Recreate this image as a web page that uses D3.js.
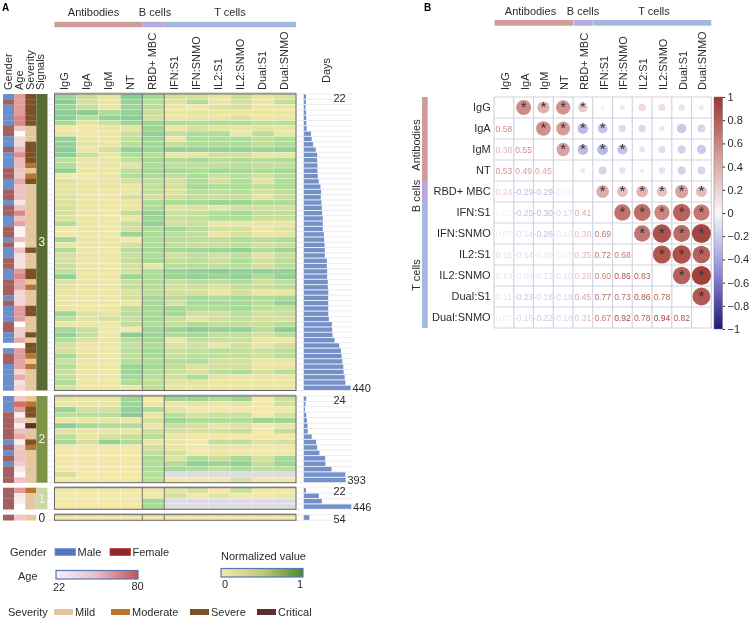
<!DOCTYPE html>
<html><head><meta charset="utf-8">
<script src="https://cdn.jsdelivr.net/npm/d3@7/dist/d3.min.js"></script>
<style>html,body{margin:0;padding:0;background:#fff}svg{display:block;filter:blur(0.35px)}text{font-family:"Liberation Sans",Arial,sans-serif;fill:#2b2b2b}</style>
</head><body><svg id="c" width="749" height="620"></svg>
<script>
const markers=["IgG","IgA","IgM","NT","RBD+ MBC","IFN:S1","IFN:SNMO","IL2:S1","IL2:SNMO","Dual:S1","Dual:SNMO"];
const groupLabels=[3,2,1,0];
const groupSizes=[56,16,4,1];
const N=null;
const igG=[.5,.6,.5,.6,.6,.45,0,.05,.55,.55,.6,.6,.3,.4,.55,0,.15,.1,.1,.15,
 .15,.2,.2,.15,.4,0,0,.45,.05,.4,.2,.2,.25,.3,.55,.15,.1,.05,.05,.05,.05,.5,.3,.05,.45,.55,.4,.2,.2,.45,.25,.35,.25,.3,.4,.2,
 .1,.05,.5,.35,.05,.6,.1,.3,.45,0,0,0,0,0,.2,0, 0,0,0,0, 0];
const igA=[.25,.2,.25,.6,.35,.1,0,0,.05,.1,.05,.25,.05,.05,.05,0,.05,.05,.05,.05,
 .04,.04,.04,.04,.04,.04,.04,.04,.04,.04,.04,.04,.04,.04,.04,.04,.04,.04,.04,.04,.04,.15,.1,.04,.25,.3,.15,.04,.04,.1,.04,.04,.04,.04,.04,.04,
 .05,.05,.2,.35,.05,.45,.05,.05,.2,0,0,0,0,0,0,0, 0,0,0,0, 0];
const igM=[.1,.05,.05,.4,.55,.25,.05,.05,.05,.05,.2,.05,.05,.05,.05,.05,.05,.05,.03,.03,
 .03,.03,.03,.03,.03,.03,.03,.03,.03,.03,.03,.03,.03,.03,.03,.03,.03,.03,.03,.03,.03,.1,.2,.03,.03,.03,.03,.03,.03,.03,.03,.03,.03,.03,.03,.03,
 .05,.05,.2,.35,.05,.4,.05,.2,.55,0,0,0,0,0,0,0, 0,0,0,0, 0];
const nt=[.6,.55,.5,.55,.6,.5,.1,.25,.3,.35,.55,.4,.3,.1,.3,.4,.2,.05,.05,.2,
 .05,.05,.3,.05,.25,.2,.5,0,.2,.35,.25,.3,.2,.2,.5,.25,.3,.15,.2,.05,.3,.35,.25,.3,0,.6,.35,.3,.35,.3,.35,.5,.5,.45,.4,.05,
 .5,.5,.55,.6,.05,.4,.05,.25,.4,0,0,0,0,0,0,0, 0,0,0,0, 0];
const rbd=[.45,.35,.35,.25,.2,.5,.5,.55,.5,.45,.5,.35,.45,.4,.45,.4,.3,.3,.3,.2,
 .4,.4,.55,.5,.55,.4,.4,.4,.4,.45,.4,.45,.05,.4,.4,.4,.35,.3,.45,.45,.45,.45,.45,.4,.5,.5,.45,.4,.45,.45,.4,.45,.4,.35,.3,.3,
 0,.05,.4,.05,.2,.05,.25,.35,.05,.2,.3,.4,.4,.4,.35,.35, 0,0,.45,.45, 0];
const ifnS1=[.2,.15,.05,.05,.05,.4,.05,.3,.05,.3,.55,.05,.4,.3,.45,.3,.2,.2,.15,.2,
 .4,.1,.25,.25,.2,.45,.35,.35,.3,.45,.2,.3,.35,.5,.5,.25,.2,.2,.35,.2,.45,.45,.25,.3,.5,.4,.05,.15,.25,.25,.35,.3,.25,.2,.1,.05,
 .5,.05,.1,.35,.5,.25,.2,.05,.05,.05,.2,.15,.4,.45,N,0, .1,.2,N,N, 0];
const ifnSNMO=[.2,.4,0,.1,.1,.4,.2,.4,.4,.4,.55,.05,.45,.3,.4,.4,.4,.45,.35,.3,
 .45,.15,.3,.3,.25,.35,.3,.35,.25,.5,.3,.35,.35,.55,.55,.35,.25,.2,.45,.45,.4,.2,.1,.4,.6,.45,.3,.2,.3,.35,.4,.15,.15,.4,.1,.05,
 .5,.1,0,.2,.4,.2,.2,0,0,0,0,.4,.55,.4,N,0, .2,0,N,N, 0];
const il2S1=[.05,.05,.15,.05,.05,.4,.1,.4,.4,.4,.55,.2,.35,.3,.45,.25,.2,.4,.3,.25,
 .5,.05,.4,.4,.05,.2,.05,.3,.25,.5,.2,.25,.3,.6,.5,.3,.15,.05,.4,.45,.4,.2,.2,.3,.55,.3,.25,.05,.35,.3,.2,.2,.35,.1,.05,.05,
 .4,.05,0,.25,.4,.05,.2,0,.3,.05,.05,.25,.5,.3,N,0, 0,.1,N,N, 0];
const il2SNMO=[.25,.2,.2,.05,.15,.4,.05,.05,.4,.4,.55,.2,.4,.35,.45,.35,.4,.4,.35,.3,
 .5,.2,.45,.4,.05,.2,.2,.4,.3,.55,.3,.4,.35,.55,.55,.4,.3,.2,.45,.45,.45,.35,.3,.3,.55,.3,.25,.2,.3,.3,.2,.2,.4,.05,.05,.05,
 .5,.1,0,.25,.4,.15,.3,0,.3,.05,0,.45,.55,.4,N,.2, .25,0,N,N, 0];
const dualS1=[.05,.05,.05,.05,.05,.3,.1,.35,.3,.3,.5,.05,.35,.3,.4,.2,.1,.3,.2,.1,
 .4,.2,.3,.25,.05,.05,.05,.35,.2,.4,.1,.2,.2,.55,.4,.2,.25,.05,.4,.35,.3,.2,.2,.25,.35,.2,.05,.05,.25,.2,.05,.05,.2,.05,.05,.05,
 0,0,0,0,.5,0,0,0,.15,0,0,.2,.3,.3,N,0, 0,0,N,N, 0];
const dualSNMO=[.15,.3,.05,.05,.05,.35,.05,.05,.4,.4,.55,.05,.4,.3,.45,.35,.4,.4,.3,.25,
 .4,.2,.3,.25,.05,.15,.1,.4,.25,.5,.25,.35,.35,.55,.55,.3,.35,.05,.45,.55,.3,.25,.2,.35,.6,.35,.05,.2,.35,.35,.05,.05,.35,.05,.05,.05,
 .25,.2,0,.2,.5,.05,.3,0,.2,0,0,.45,.5,.35,N,0, 0,.05,N,N, 0];
const heatColumns=[igG,igA,igM,nt,rbd,ifnS1,ifnSNMO,il2S1,il2SNMO,dualS1,dualSNMO];
const gender=["M","F","M","M","M","M","F","F","M","M","F","M","M","M","F","F","M","M","F","F","M","F","F","M","M","F","F","M","F","M","M","F","F","M","M","F","F","F","M","F","M","M","M","F","F","M","M",N,"M","F","F","M","M","M","M","M",
 "M","M","M","F","F","F","F","F","M","F","M","F","M","F","F","F", "F","F","F","F", "F"];
const age=[55,55,55,55,62,62,40,22,35,36,45,60,45,45,42,40,50,42,42,42,
 30,42,62,42,52,26,26,42,24,42,32,32,32,55,62,50,50,36,35,36,55,55,55,22,38,38,50,N,55,55,52,52,35,50,32,36,
 40,70,55,28,40,28,42,50,28,40,42,42,38,30,24,42, 55,30,28,22, 40];
const severity=["S","S","S","S","S","S","L","L","L","S","S","S","S","O","L","O","S","L","L","L","L","L","L","L","L","L","L","L","L","S","L","L","L","S","S","L","O","L","L","L","S","S","L","L","L","S","L","S","S","O","L","O","L","L","L","L",
 "L","O","S","S","L","C","L","L","S","O","L","L","L","L","L","L", "O","L","L","L", "L"];
const days=[22,20,17,22,24,25,28,69,75,88,113,126,126,129,129,132,141,157,163,160,166,
 170,173,179,179,179,189,192,195,198,198,217,217,220,220,226,226,230,230,230,230,230,236,264,267,270,289,333,349,355,362,371,374,384,390,440,
 24,16,12,24,30,35,38,75,116,126,148,201,204,261,390,393, 22,141,170,446, 54];
const dayLabelsShown=[[0,22],[55,440],[56,24],[71,393],[72,22],[75,446],[76,54]];
const bandGroups=["Antibodies","B cells","T cells"];
const bandSizes=[4,1,6];
const bandColors=["#cf9c9c","#b7a8dd","#a3b8e1"];
const severityNames=["Mild","Moderate","Severe","Critical"];
const severityCodes=["L","O","S","C"];
const severityColors=["#e6c69e","#b9752c","#7d5126","#5b302c"];
const genderNames=["Male","Female"];
const corrLower=[[],[.58],[.38,.55],[.53,.49,.45],[.24,-.29,-.29,-.06],[.03,-.25,-.30,-.17,.41],
 [.07,-.14,-.26,-.10,.30,.69],[.15,-.14,-.09,-.05,.35,.72,.68],[.13,-.08,-.13,-.10,.28,.60,.86,.83],
 [.11,-.23,-.18,-.18,.45,.77,.73,.86,.78],[.07,-.16,-.22,-.16,.31,.67,.92,.78,.94,.82]];
const sigPairs=[[0,1],[0,2],[0,3],[0,4],[1,2],[1,3],[1,4],[1,5],[2,3],[2,4],[2,5],[2,6]];
const corrTicks=[1,.8,.6,.4,.2,0,-.2,-.4,-.6,-.8,-1];

const svg=d3.select("#c");
const txt=(g,x,y,s,o={})=>g.append("text").attr("x",x).attr("y",y).attr("font-size",o.size||11).attr("text-anchor",o.anchor||"start").attr("dominant-baseline","central").attr("font-weight",o.weight||null).style("fill",o.fill||null).text(s);
const vtxt=(g,x,y,s,o={})=>g.append("text").attr("transform",`translate(${x},${y}) rotate(-90)`).attr("font-size",o.size||11).attr("text-anchor",o.anchor||"start").attr("dominant-baseline","central").style("fill",o.fill||null).text(s);

/* ---------- Panel A ---------- */
const A=svg.append("g");
txt(A,2,7,"A",{size:10,weight:"bold",fill:"#000"});
const xA=d3.scaleBand().domain(markers).range([54.5,296]);
const groupRanges=[[94,390.5],[396,482.7],[487.7,509.3],[514.7,520.3]];
const rowScales=[];let offs=0;
groupSizes.forEach((n,i)=>{rowScales.push({s:d3.scaleBand().domain(d3.range(offs,offs+n)).range(groupRanges[i]),from:offs,n});offs+=n;});
const yRow=i=>rowScales.find(r=>i>=r.from&&i<r.from+r.n).s;
const heatColor=d3.scaleLinear().domain([0,.2,.4,.6,1]).range(["#f3e8a8","#d5e09d","#aedd97","#8bcd95","#4a8a2a"]);
const ageColor=d3.scaleLinear().domain([22,80]).range(["#ffffff","#cc4f4f"]);
const genderColor=d3.scaleOrdinal().domain(["M","F"]).range(["#6b8fca","#a65f5f"]);
const sevColor=d3.scaleOrdinal().domain(severityCodes).range(severityColors);
const signalColor=d3.scaleOrdinal().domain(groupLabels).range(["#5a6b35","#7e9343","#cdd7a5","#ffffff"]);
const nRows=days.length;
// faint row rules
const rules=A.append("g");
d3.range(nRows).forEach(i=>{const y=yRow(i),b=y(i)+y.bandwidth();
  [[47.5,54],[296,352]].forEach(([a,c])=>rules.append("line").attr("x1",a).attr("x2",c).attr("y1",b).attr("y2",b).attr("stroke","#e7e7ee").attr("stroke-width",.8));});
rowScales.forEach((r,i)=>{rules.append("line").attr("x1",296).attr("x2",352).attr("y1",groupRanges[i][0]).attr("y2",groupRanges[i][0]).attr("stroke","#e7e7ee").attr("stroke-width",.8);});
// heat cells
const cells=[];heatColumns.forEach((c,j)=>c.forEach((v,i)=>cells.push({i,j,v})));
A.append("g").selectAll("rect").data(cells).join("rect")
 .attr("x",d=>xA(markers[d.j])).attr("y",d=>yRow(d.i)(d.i)).attr("width",xA.bandwidth()).attr("height",d=>yRow(d.i).bandwidth())
 .attr("fill",d=>d.v===null?"#dcdce2":heatColor(d.v)).attr("stroke","#fff").attr("stroke-opacity",.45).attr("stroke-width",.5);
// group frames
rowScales.forEach((r,i)=>{const [a,b]=groupRanges[i];
 A.append("rect").attr("x",xA.range()[0]).attr("y",a-1.6).attr("width",241.5).attr("height",1.4).attr("fill","#c6c6c6");
 A.append("rect").attr("x",xA.range()[0]).attr("y",a).attr("width",241.5).attr("height",b-a).attr("fill","none").attr("stroke","#666").attr("stroke-width",1);
 [4,5].forEach(k=>{const x=xA(markers[k]);A.append("line").attr("x1",x).attr("x2",x).attr("y1",a).attr("y2",b).attr("stroke","#666").attr("stroke-width",.9);});
});
// annotation columns
const xAnn=d3.scaleBand().domain(["Gender","Age","Severity","Signals"]).range([3,47.5]);
const annW=xAnn.bandwidth();
const rowsIdx=d3.range(nRows);
const ann=(name,col)=>A.append("g").selectAll("rect").data(rowsIdx).join("rect")
 .attr("x",xAnn(name)).attr("y",i=>yRow(i)(i)).attr("width",annW).attr("height",i=>yRow(i).bandwidth()+.2).attr("fill",col);
ann("Gender",i=>gender[i]?genderColor(gender[i]):"#fff");
ann("Age",i=>age[i]===null?"#fff":ageColor(age[i]));
ann("Severity",i=>sevColor(severity[i]));
groupLabels.forEach((g,i)=>{const [a,b]=groupRanges[i];
 A.append("rect").attr("x",xAnn("Signals")).attr("y",a).attr("width",annW).attr("height",b-a).attr("fill",signalColor(g));
 txt(A,xAnn("Signals")+annW/2,(a+b)/2,g,{size:12,anchor:"middle",fill:i==3?"#222":"#f2f2f2"});});
[["Gender",7.5],["Age",18.5],["Severity",30],["Signals",40]].forEach(([s,x])=>vtxt(A,x,90,s));
// column labels + band
markers.forEach(m=>vtxt(A,xA(m)+xA.bandwidth()/2-1.5,90,m));
let c0=0;bandGroups.forEach((g,i)=>{const st=xA(markers[c0]),en=xA(markers[c0+bandSizes[i]-1])+xA.bandwidth();
 A.append("rect").attr("x",st).attr("y",21.8).attr("width",en-st).attr("height",5.4).attr("fill",bandColors[i]);c0+=bandSizes[i];});
[["Antibodies",93.5],["B cells",155],["T cells",230]].forEach(([s,x])=>txt(A,x,12,s,{anchor:"middle"}));
// days bars
const xDays=d3.scaleLinear().domain([0,446]).range([303.7,351.3]);
A.append("g").selectAll("rect").data(rowsIdx).join("rect")
 .attr("x",xDays(0)).attr("y",i=>yRow(i)(i)+.5).attr("width",i=>xDays(days[i])-xDays(0)).attr("height",i=>yRow(i).bandwidth()-1).attr("fill","#7390c9");
vtxt(A,326,83,"Days");
dayLabelsShown.forEach(([i,v])=>{const y=yRow(i),cy=y(i)+y.bandwidth()/2;
 const big=v>300;
 txt(A,big?xDays(days[i])+1.8:339.5,big?cy:cy+1,v,{anchor:big?"start":"middle"});});
// legends
const L=svg.append("g");
const defs=svg.append("defs");
const grad=(id,stops)=>{const g=defs.append("linearGradient").attr("id",id);stops.forEach((c,i)=>g.append("stop").attr("offset",i/(stops.length-1)).attr("stop-color",c));};
grad("ageG",["#f4f2fb","#e8bcc4",ageColor(80)]);
grad("valG",[heatColor(0),"#c5c878",heatColor(1)]);
txt(L,10,552,"Gender");
[[genderNames[0],55,"#5577bb"],[genderNames[1],110,"#8e2a2a"]].forEach(([s,x,c])=>{
 L.append("rect").attr("x",x).attr("y",548.5).attr("width",20.5).attr("height",7).attr("fill",c).attr("stroke",d3.color(c).brighter(.6)).attr("stroke-width",.7);
 txt(L,x+22.5,552,s);});
txt(L,18,576,"Age");
L.append("rect").attr("x",56).attr("y",570.5).attr("width",82).attr("height",8.5).attr("fill","url(#ageG)").attr("stroke","#5577bb").attr("stroke-width",1.2);
txt(L,59,587,"22",{anchor:"middle"});txt(L,137.5,586,"80",{anchor:"middle"});
txt(L,221,556,"Normalized value");
L.append("rect").attr("x",221).attr("y",568.5).attr("width",82).attr("height",8.5).attr("fill","url(#valG)").attr("stroke","#5577bb").attr("stroke-width",1.2);
txt(L,225,584,"0",{anchor:"middle"});txt(L,300,584,"1",{anchor:"middle"});
txt(L,8,612,"Severity");
[54,111,190,257].forEach((x,i)=>{L.append("rect").attr("x",x).attr("y",609).attr("width",19).attr("height",6).attr("fill",severityColors[i]);
 txt(L,x+21,612,severityNames[i]);});

/* ---------- Panel B ---------- */
const B=svg.append("g");
txt(B,424,7,"B",{size:10,weight:"bold",fill:"#000"});
const xB=d3.scaleBand().domain(markers).range([494,711.3]);
const yB=d3.scaleBand().domain(markers).range([97,328]);
const corrColor=d3.scaleLinear().domain([-1,-.5,0,.5,1]).range(["#1d1a7c","#8f8fdc","#f8f8f8","#d79a97","#9c352e"]);
const rad=d3.scaleSqrt().domain([0,1]).range([0,9.9]);
const full=[];markers.forEach((m,i)=>markers.forEach((n,j)=>{if(j<i)full.push({i,j,v:corrLower[i][j]});}));
// grid
B.append("g").selectAll("line.v").data(d3.range(12)).join("line").attr("x1",k=>494+k*xB.bandwidth()).attr("x2",k=>494+k*xB.bandwidth()).attr("y1",97).attr("y2",328).attr("stroke","#d3d2e2").attr("stroke-width",1.2);
B.append("g").selectAll("line.h").data(d3.range(12)).join("line").attr("y1",k=>97+k*yB.bandwidth()).attr("y2",k=>97+k*yB.bandwidth()).attr("x1",494).attr("x2",711.3).attr("stroke","#d3d2e2").attr("stroke-width",1.2);
// lower numbers
B.append("g").selectAll("text").data(full).join("text")
 .attr("x",d=>xB(markers[d.j])+xB.bandwidth()/2).attr("y",d=>yB(markers[d.i])+yB.bandwidth()/2).attr("text-anchor","middle").attr("dominant-baseline","central").attr("font-size",8.5)
 .style("fill",d=>corrColor(d.v)).text(d=>d3.format(".2f")(d.v).replace("−","-"));
// upper circles
B.append("g").selectAll("circle").data(full).join("circle")
 .attr("cx",d=>xB(markers[d.i])+xB.bandwidth()/2).attr("cy",d=>yB(markers[d.j])+yB.bandwidth()/2).attr("r",d=>rad(Math.abs(d.v)))
 .attr("fill",d=>corrColor(d.v));
// stars
const isSig=d=>d.j>=4||sigPairs.some(p=>p[0]===d.j&&p[1]===d.i);
B.append("g").selectAll("text").data(full.filter(isSig)).join("text")
 .attr("x",d=>xB(markers[d.i])+xB.bandwidth()/2).attr("y",d=>yB(markers[d.j])+yB.bandwidth()/2+4.5).attr("text-anchor","middle").attr("font-size",15)
 .style("fill","#333").text("*");
markers.forEach(m=>{vtxt(B,xB(m)+xB.bandwidth()/2+1,90,m);txt(B,490.7,yB(m)+yB.bandwidth()/2-.5,m,{anchor:"end"});});
let c1=0;bandGroups.forEach((g,i)=>{const n=bandSizes[i],st=xB(markers[c1]),en=xB(markers[c1+n-1])+xB.bandwidth();
 B.append("rect").attr("x",st+.5).attr("y",20).attr("width",en-st-.5).attr("height",5.7).attr("fill",bandColors[i]);
 const a=yB(markers[c1]),b=yB(markers[c1+n-1])+yB.bandwidth();
 B.append("rect").attr("x",422).attr("y",a).attr("width",5.7).attr("height",b-a).attr("fill",bandColors[i]);c1+=n;});
[["Antibodies",530.5],["B cells",583],["T cells",654]].forEach(([s,x])=>txt(B,x,11,s,{anchor:"middle"}));
[["Antibodies",145],["B cells",196],["T cells",275]].forEach(([s,y])=>vtxt(B,416,y,s,{anchor:"middle"}));
// colour bar
const yBar=d3.scaleLinear().domain([-1,1]).range([329,97]);
const bg=defs.append("linearGradient").attr("id","corrG").attr("x1",0).attr("x2",0).attr("y1",1).attr("y2",0);
[-1,-.5,0,.5,1].forEach(v=>bg.append("stop").attr("offset",(v+1)/2).attr("stop-color",corrColor(v)));
B.append("rect").attr("x",714).attr("y",97).attr("width",8.5).attr("height",232).attr("fill","url(#corrG)").attr("stroke","#777").attr("stroke-width",.5);
const axG=B.append("g").attr("transform","translate(722.5,0)").call(d3.axisRight(yBar).tickValues(corrTicks).tickSize(2.5).tickPadding(2.5).tickFormat(d3.format(".1~f")));
axG.select(".domain").remove();
axG.selectAll("text").attr("font-size",11).attr("font-family",null);
axG.selectAll("line").attr("stroke","#333");
</script></body></html>
